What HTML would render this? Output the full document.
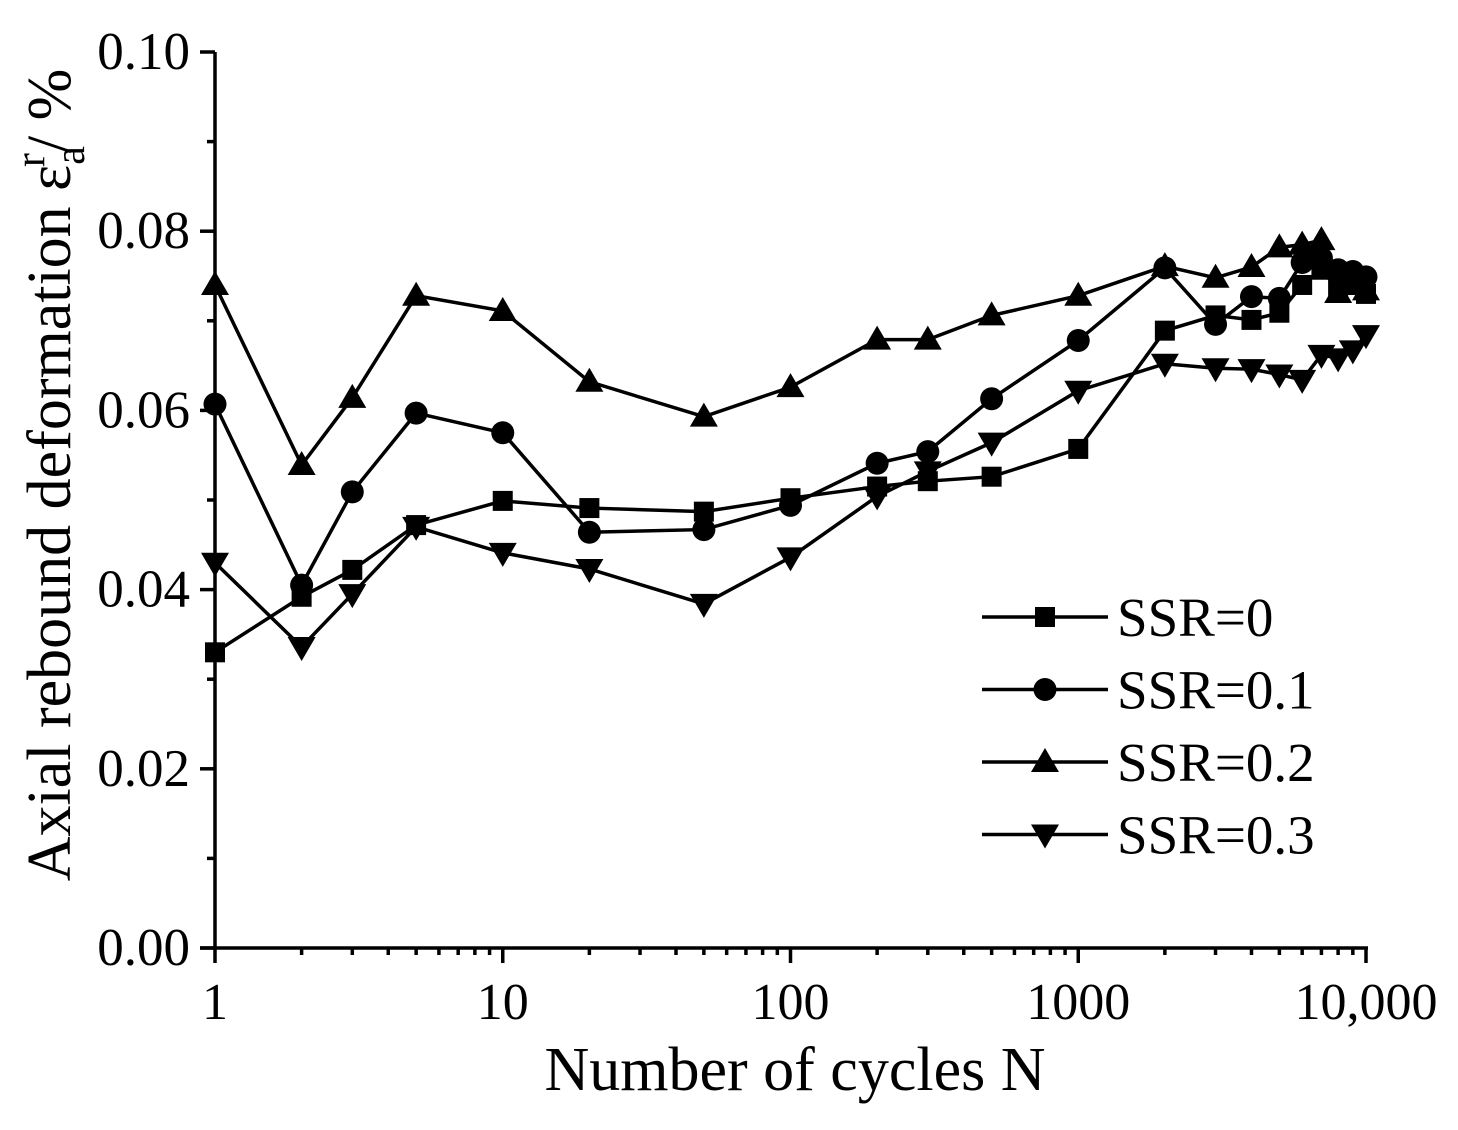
<!DOCTYPE html>
<html><head><meta charset="utf-8"><style>
html,body{margin:0;padding:0;background:#fff}
svg{display:block}
text{font-family:"Liberation Serif",serif;fill:#000}
</style></head><body>
<svg id="chart" width="1458" height="1130" viewBox="0 0 1458 1130" xmlns="http://www.w3.org/2000/svg">
<g id="axes"></g>
<g id="series"></g>
<g id="legend"></g>
<text x="795" y="1090" font-size="62" text-anchor="middle">Number of cycles N</text>
<text transform="translate(70,475) rotate(-90)" font-size="62" text-anchor="middle">Axial rebound deformation ε<tspan font-size="42" dy="14">a</tspan><tspan font-size="42" dx="-21" dy="-40">r</tspan><tspan dy="26">/ %</tspan></text>
</svg>
<script>
const cycles=[1,2,3,5,10,20,50,100,200,300,500,1000,2000,3000,4000,5000,6000,7000,8000,9000,10000];
const ssr0=[0.0330,0.0392,0.0422,0.0472,0.0499,0.0491,0.0487,0.0502,0.0515,0.0521,0.0526,0.0557,0.0689,0.0706,0.0701,0.0709,0.0740,0.0757,0.0735,0.0745,0.0730];
const ssr1=[0.0607,0.0405,0.0509,0.0597,0.0575,0.0464,0.0467,0.0494,0.0541,0.0554,0.0613,0.0678,0.0759,0.0696,0.0727,0.0725,0.0765,0.0770,0.0757,0.0755,0.0749];
const ssr2=[0.0740,0.0539,0.0614,0.0728,0.0711,0.0632,0.0593,0.0626,0.0679,0.0679,0.0706,0.0728,0.0761,0.0748,0.0760,0.0782,0.0785,0.0790,0.0731,0.0740,0.0734];
const ssr3=[0.0430,0.0336,0.0395,0.0470,0.0441,0.0423,0.0384,0.0436,0.0504,0.0532,0.0564,0.0622,0.0652,0.0647,0.0646,0.0640,0.0634,0.0662,0.0658,0.0667,0.0684];
const seriesNames=["SSR=0","SSR=0.1","SSR=0.2","SSR=0.3"];
const markers=["square","circle","up","down"];
const yTicks=[0,0.02,0.04,0.06,0.08,0.10];
const yTickLabels=["0.00","0.02","0.04","0.06","0.08","0.10"];
const xTicks=[1,10,100,1000,10000];
const xTickLabels=["1","10","100","1000","10,000"];

const NS="http://www.w3.org/2000/svg";
const X0=215,X1=1366,Y0=948,Y1=52;
const xs=v=>X0+(Math.log10(v)-0)/4*(X1-X0);
const ys=v=>Y0-(v/0.10)*(Y0-Y1);
function mk(tag,attrs,parent){const e=document.createElementNS(NS,tag);for(const k in attrs)e.setAttribute(k,attrs[k]);parent.appendChild(e);return e;}
const axes=document.getElementById('axes');
let l=mk('line',{x1:X0,y1:Y0,x2:X0,y2:Y1,stroke:'#000','stroke-width':3.5},axes);


l=mk('line',{x1:200,y1:Y0,x2:X1+2,y2:Y0,stroke:'#000','stroke-width':3.5},axes);


for(let i=0;i<=10;i++){const v=i*0.01;const y=ys(v);const major=i%2===0;
 const t=mk('line',{x1:X0-(major?15:8),y1:y,x2:X0,y2:y,stroke:'#000','stroke-width':3.5},axes);
 
 }
yTicks.forEach((v,i)=>{const t=mk('text',{x:190,y:ys(v)+17,'font-size':53,'text-anchor':'end'},axes);t.textContent=yTickLabels[i];
 
 });
for(let d=0;d<4;d++){for(let m=2;m<=9;m++){const x=xs(m*Math.pow(10,d));
 const t=mk('line',{x1:x,y1:Y0,x2:x,y2:Y0+7,stroke:'#000','stroke-width':3.5},axes);
 
 }}
xTicks.forEach((v,i)=>{const x=xs(v);
 const t=mk('line',{x1:x,y1:Y0,x2:x,y2:Y0+15,stroke:'#000','stroke-width':3.5},axes);
 
 
 const tx=mk('text',{x:x,y:1019,'font-size':52,'text-anchor':'middle'},axes);tx.textContent=xTickLabels[i];
 
 });
function marker(type,x,y,g){let e;
 if(type==='square')e=mk('rect',{x:x-10,y:y-10,width:20,height:20,fill:'#000'},g);
 else if(type==='circle')e=mk('circle',{cx:x,cy:y,r:11.5,fill:'#000'},g);
 else if(type==='up')e=mk('polygon',{points:`${x},${y-14} ${x-14},${y+10} ${x+14},${y+10}`,fill:'#000'},g);
 else e=mk('polygon',{points:`${x},${y+14} ${x-14},${y-10} ${x+14},${y-10}`,fill:'#000'},g);
 return e;}
const sg=document.getElementById('series');
[ssr0,ssr1,ssr2,ssr3].forEach((vals,si)=>{
 const g=mk('g',{},sg);
 
 
 const pl=mk('polyline',{points:vals.map((v,i)=>xs(cycles[i])+','+ys(v)).join(' '),fill:'none',stroke:'#000','stroke-width':3.5},g);
 
 
 vals.forEach((v,i)=>{const m=marker(markers[si],xs(cycles[i]),ys(v),g);
  
  });
});
const lg=document.getElementById('legend');
seriesNames.forEach((n,i)=>{const y=617+i*72.5;
 const g=mk('g',{},lg);
 
 
 mk('line',{x1:982,y1:y,x2:1108,y2:y,stroke:'#000','stroke-width':3.5},g);
 marker(markers[i],1045,y,g);
 const t=mk('text',{x:1117,y:y+19,'font-size':55},g);t.textContent=n;});
</script>
</body></html>
